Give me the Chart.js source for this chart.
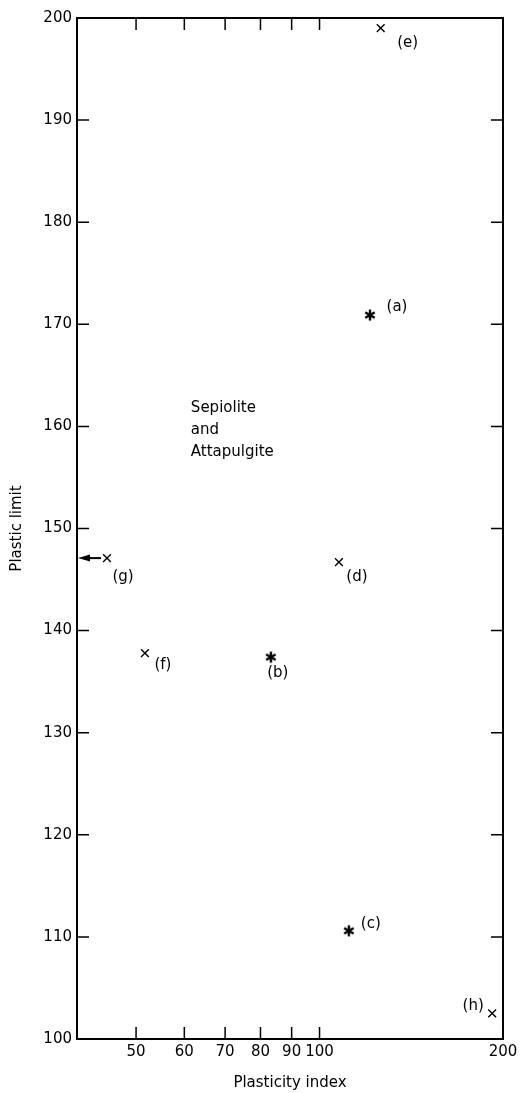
<!DOCTYPE html>
<html>
<head>
<meta charset="utf-8">
<script src="https://cdn.jsdelivr.net/npm/chart.js@4"></script>
<style>
  html, body { margin: 0; padding: 0; background: #fff; }
  #wrap { width: 522px; height: 1093px; position: relative; }
</style>
</head>
<body>
<div id="wrap"><canvas id="grafico"></canvas></div>
<script>
// samples shown with an asterisk
const starNames = ['(a)', '(b)', '(c)'];
const starIndex = [121, 83.2, 111.7];
const starLimit = [170.9, 137.4, 110.6];
// samples shown with a cross
const crossNames = ['(d)', '(e)', '(f)', '(g)', '(h)'];
const crossIndex = [107.6, 126, 51.7, 44.8, 192];
const crossLimit = [146.7, 199.0, 137.8, 147.1, 102.5];
// axes
const xTickValues = [50, 60, 70, 80, 90, 100, 200];
const yTickValues = [100, 110, 120, 130, 140, 150, 160, 170, 180, 190, 200];
const noteLines = ['Sepiolite', 'and', 'Attapulgite'];

const fam = "'DejaVu Sans', sans-serif";

// label offsets (px) from each marker
const labelOffset = {
  '(a)': [27, -8], '(b)': [7, 16], '(c)': [22, -7],
  '(d)': [18, 15], '(e)': [27, 15], '(f)': [18, 12],
  '(g)': [16, 19], '(h)': [-19, -7]
};

// asterisk marker
function makeAsterisk() {
  let cv = document.createElement('canvas');
  cv.width = 14; cv.height = 14;
  let c = cv.getContext('2d');
  c.strokeStyle = '#000';
  c.lineWidth = 2.4;
  c.beginPath();
  [90, 30, 150].forEach(function(d) {
    let r = d * Math.PI / 180;
    c.moveTo(7 - Math.cos(r) * 5.5, 7 - Math.sin(r) * 5.5);
    c.lineTo(7 + Math.cos(r) * 5.5, 7 + Math.sin(r) * 5.5);
  });
  c.stroke();
  return cv;
}

const framePlugin = {
  id: 'frame',
  afterDraw(chart) {
    const c = chart.ctx, a = chart.chartArea;
    const sx = chart.scales.x, sy = chart.scales.y;
    c.save();
    c.strokeStyle = '#000';
    c.lineWidth = 2;
    c.strokeRect(a.left, a.top, a.right - a.left, a.bottom - a.top);

    // inward ticks on all four sides
    c.lineWidth = 1.5;
    c.beginPath();
    xTickValues.forEach(function(v) {
      let p = sx.getPixelForValue(v);
      if (p <= a.left + 1 || p >= a.right - 1) return;
      c.moveTo(p, a.bottom); c.lineTo(p, a.bottom - 12);
      c.moveTo(p, a.top); c.lineTo(p, a.top + 12);
    });
    yTickValues.forEach(function(v) {
      let p = sy.getPixelForValue(v);
      if (p <= a.top + 1 || p >= a.bottom - 1) return;
      c.moveTo(a.left, p); c.lineTo(a.left + 12, p);
      c.moveTo(a.right, p); c.lineTo(a.right - 12, p);
    });
    c.stroke();

    // point labels
    c.fillStyle = '#000';
    c.font = '15px ' + fam;
    c.textAlign = 'center';
    c.textBaseline = 'middle';
    [0, 1].forEach(function(di) {
      let meta = chart.getDatasetMeta(di);
      let names = di === 0 ? starNames : crossNames;
      meta.data.forEach(function(pt, j) {
        let off = labelOffset[names[j]];
        c.fillText(names[j], pt.x + off[0], pt.y + off[1]);
      });
    });

    // arrow from (g) to the axis
    let g = chart.getDatasetMeta(1).data[crossNames.indexOf('(g)')];
    c.lineWidth = 2;
    c.beginPath();
    c.moveTo(g.x - 6, g.y);
    c.lineTo(a.left + 8, g.y);
    c.stroke();
    c.beginPath();
    c.moveTo(a.left + 1, g.y);
    c.lineTo(a.left + 13, g.y - 3.5);
    c.lineTo(a.left + 13, g.y + 3.5);
    c.closePath();
    c.fill();

    // note
    c.textAlign = 'left';
    let nx = sx.getPixelForValue(61.5), ny = sy.getPixelForValue(161.8);
    noteLines.forEach(function(t, i) {
      c.fillText(t, nx, ny + i * 22);
    });
    c.restore();
  }
};

let ctx = document.getElementById('grafico').getContext('2d');
var grafico = new Chart(ctx, {
  type: 'scatter',
  data: {
    datasets: [{
      label: 'asterisk',
      data: starIndex.map(function(x, i) { return { x: x, y: starLimit[i] }; }),
      pointStyle: makeAsterisk(),
      pointRadius: 6,
      borderColor: '#000',
      backgroundColor: '#000',
      clip: false
    }, {
      label: 'cross',
      data: crossIndex.map(function(x, i) { return { x: x, y: crossLimit[i] }; }),
      pointStyle: 'crossRot',
      pointRadius: 5.5,
      borderWidth: 1.4,
      borderColor: '#000',
      backgroundColor: '#000',
      clip: false
    }]
  },
  options: {
    responsive: true,
    maintainAspectRatio: false,
    animation: false,
    layout: { padding: { top: 18, right: 19, left: 0, bottom: 0 } },
    plugins: { legend: { display: false }, tooltip: { enabled: false } },
    scales: {
      x: {
        type: 'logarithmic',
        min: 40,
        max: 200,
        afterBuildTicks: function(s) { s.ticks = xTickValues.map(function(v) { return { value: v }; }); },
        afterFit: function(s) { s.height = 54; },
        grid: { display: false, drawTicks: false },
        border: { display: false },
        ticks: {
          autoSkip: false, maxRotation: 0, padding: 4, color: '#000',
          font: { family: fam, size: 15 },
          callback: function(v) { return String(v); }
        },
        title: {
          display: true, text: 'Plasticity index', color: '#000',
          font: { family: fam, size: 15 }, padding: { top: 0, bottom: 1 }
        }
      },
      y: {
        min: 100,
        max: 200,
        afterBuildTicks: function(s) { s.ticks = yTickValues.map(function(v) { return { value: v }; }); },
        afterFit: function(s) { s.width = 77; },
        grid: { display: false, drawTicks: false },
        border: { display: false },
        ticks: {
          autoSkip: false, padding: 5, color: '#000',
          font: { family: fam, size: 15 }
        },
        title: {
          display: true, text: 'Plastic limit', color: '#000',
          font: { family: fam, size: 15 }, padding: { top: 8, bottom: 0 }
        }
      }
    }
  },
  plugins: [framePlugin]
});
</script>
</body>
</html>
